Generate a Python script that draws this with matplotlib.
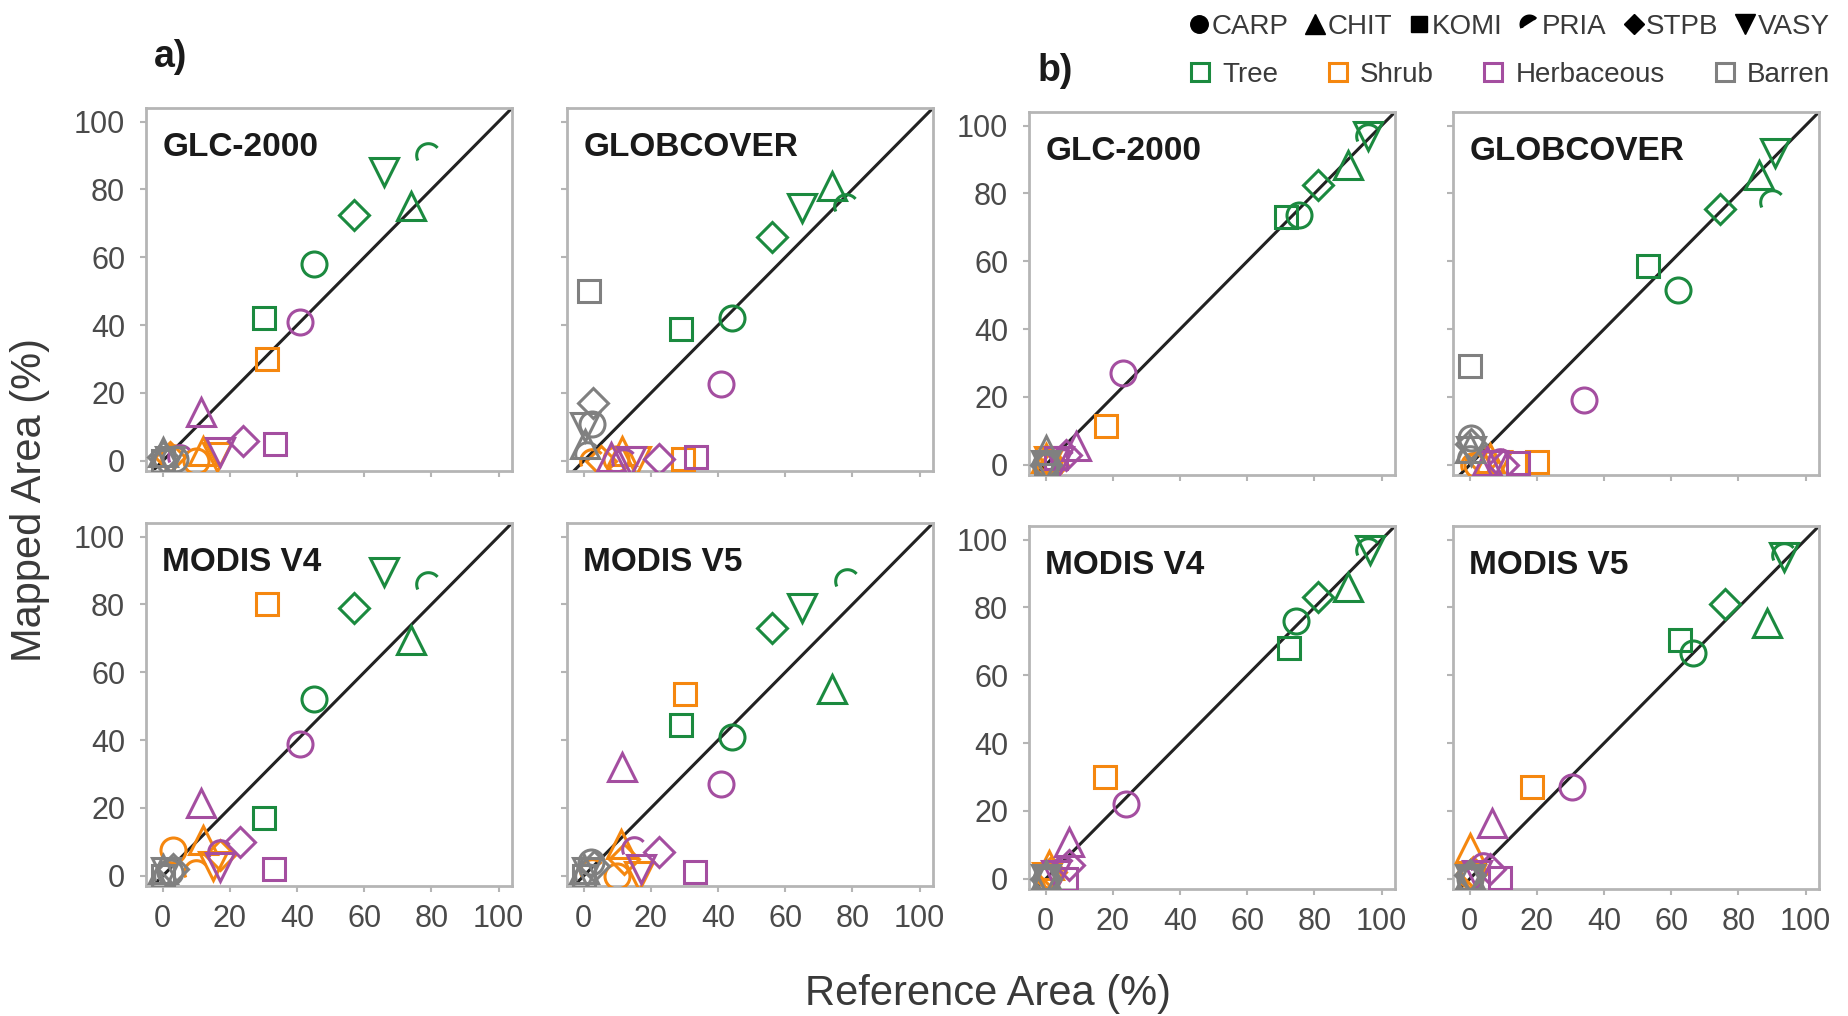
import numpy as np
import matplotlib.pyplot as plt
from matplotlib.lines import Line2D
from matplotlib.path import Path

plt.rcParams['font.family'] = ['Liberation Sans', 'DejaVu Sans']

# ---------------------------------------------------------------
# data: rows = cover classes, columns = sites
# ---------------------------------------------------------------
SITES = ["CARP", "CHIT", "KOMI", "PRIA", "STPB", "VASY"]
CLASSES = ["Tree", "Shrub", "Herbaceous", "Barren"]
PRODUCTS = ["GLC-2000", "GLOBCOVER", "MODIS V4", "MODIS V5"]

# a) panels
a_glc_ref = [[45, 74, 30, 79, 57, 66], [10, 12, 31, 3, 2, 16],
             [41, 11.5, 33.5, 5, 24, 17], [3.5, 0, 0, 1, 0, 2]]
a_glc_map = [[58, 75, 42, 90, 72.5, 85], [0, 3, 30, 1, 1, 1],
             [41, 14.5, 5, 1, 5.7, 2.5], [0.5, 2.5, 0, 0, 1, 0]]

a_gc_ref = [[44, 74, 29, 78, 56, 65], [9.5, 11.5, 29.5, 2.5, 5, 15.5],
            [41, 8, 33.5, 12, 22.5, 14], [2.5, 0.5, 1.5, 1, 2.7, 0.5]]
a_gc_map = [[42, 81, 39, 75, 66, 74.5], [0.5, 3, 0.5, 0, 0, 0],
            [22.5, 1, 1, 0, 0.5, 0], [11, 5, 50, 2, 17, 10]]

a_m4_ref = [[45, 74, 30, 79, 57, 66], [3, 12, 31, 10, 17, 15],
            [41, 11.5, 33, 17, 23, 17], [2, 0, 0, 1, 3, 1]]
a_m4_map = [[52, 69.5, 17, 86, 79, 89.5], [7.5, 10.5, 80, 1, 6, 3],
            [39, 21.5, 2, 7, 10, 2.5], [1, 2, 0, 0, 2, 1]]

a_m5_ref = [[44, 74, 29, 78.5, 56, 65], [10, 11, 30, 2.5, 12, 16.5],
            [41, 11.5, 33, 15, 22.5, 17], [2, 0, 0, 1, 3, 1]]
a_m5_map = [[41, 55, 44.5, 87, 73, 79], [0, 9.5, 53.5, 1.5, 5, 0],
            [27, 32, 1, 8, 7, 2], [4, 2, 0, 0, 3, 1]]

# b) panels
b_glc_ref = [[75.5, 90, 71.5, 96, 81, 96], [1, 0, 18, 0.5, 2, 1],
             [23, 9, 3, 5, 6, 4], [0, 0, 0, 0, 0, 0]]
b_glc_map = [[73.5, 88.5, 73, 97, 82.5, 97], [0, 2, 11.5, 1, 0, 1],
             [27, 5.5, 2, 1, 3, 1], [0, 4.5, 0, 0, 0, 0]]

b_gc_ref = [[62, 86, 53, 90, 74.5, 91], [2, 6, 20, 1, 4, 8],
            [34, 5, 14.5, 9, 10, 7], [0.5, 0, 0, 0, 0.5, 0.5]]
b_gc_map = [[51.5, 85.5, 58.5, 77.5, 75.5, 92], [0, 2, 0.7, 0, 1, 0],
            [19, 1, 0.5, 1, 0, 0], [8, 5, 29, 2, 6, 4]]

b_m4_ref = [[74.5, 90, 72.5, 96, 81, 96.5], [1, 1, 17.5, 0.5, 1.5, 0.5],
            [24, 7, 6, 5, 7, 3], [0, 0, 0, 0, 0, 0]]
b_m4_map = [[76, 86, 68, 97, 83, 97], [1, 4, 30, 0, 2, 0.5],
            [22, 11, 0, 3, 4, 1], [0, 1, 0, 0, 0, 0]]

b_m5_ref = [[66.5, 88.5, 62.5, 93.5, 76, 93.5], [0.5, 0, 18.5, 0, 1, 0.5],
            [30.5, 6.5, 9, 4, 6, 2], [0, 0, 0, 0, 0, 0]]
b_m5_map = [[66.5, 75.5, 70.5, 95.5, 81, 95], [1, 9, 27, 1, 2, 0],
            [27, 16.5, 0.3, 4, 3, 1], [0, 1, 0, 0, 1, 0]]

TICKS = [0, 20, 40, 60, 80, 100]

# ---------------------------------------------------------------
# styling
# ---------------------------------------------------------------
COLORS = {"Tree": "#1b8a3f", "Shrub": "#f5870f",
          "Herbaceous": "#a44ea0", "Barren": "#808080"}

# PRIA: open arc, upper-left part of a circle
theta = np.linspace(np.radians(40), np.radians(205), 30)
pria_path = Path(np.column_stack([np.cos(theta), np.sin(theta)]))

MARKERS = {"CARP": ("o", 18), "CHIT": ("^", 20), "KOMI": ("s", 16),
           "PRIA": (pria_path, 17), "STPB": ("D", 15), "VASY": ("v", 20)}

FRAME = "#b5b5b5"
TXT = "#3a3a3a"

W, H = 1849, 1016
fig = plt.figure(figsize=(W / 100, H / 100), dpi=100)

# axes boxes in pixels: (left, top)
col_left = [146, 567, 1029, 1453]
row_top = {0: [108, 523], 1: [108, 523], 2: [112, 526], 3: [112, 526]}
AW, AH = 366, 363

panels = [
    (0, 0, "GLC-2000", a_glc_ref, a_glc_map),
    (0, 1, "GLOBCOVER", a_gc_ref, a_gc_map),
    (1, 0, "MODIS V4", a_m4_ref, a_m4_map),
    (1, 1, "MODIS V5", a_m5_ref, a_m5_map),
    (0, 2, "GLC-2000", b_glc_ref, b_glc_map),
    (0, 3, "GLOBCOVER", b_gc_ref, b_gc_map),
    (1, 2, "MODIS V4", b_m4_ref, b_m4_map),
    (1, 3, "MODIS V5", b_m5_ref, b_m5_map),
]

for row, col, name, ref, mapped in panels:
    left = col_left[col]
    top = row_top[col][row]
    ax = fig.add_axes([left / W, 1 - (top + AH) / H, AW / W, AH / H])

    ax.axline((0, 0), slope=1, color="#222222", lw=2.2, zorder=1)

    for ci, cls in enumerate(CLASSES):
        for si, site in enumerate(SITES):
            mk, ms = MARKERS[site]
            ax.plot(ref[ci][si], mapped[ci][si], linestyle="none",
                    marker=mk, markersize=ms, markerfacecolor="none",
                    markeredgecolor=COLORS[cls], markeredgewidth=2.2,
                    zorder=2 + ci)

    ax.set_xlim(-5, 104)
    ax.set_ylim(-3, 104)
    ax.set_xticks(TICKS)
    ax.set_yticks(TICKS)
    for sp in ax.spines.values():
        sp.set_color(FRAME)
        sp.set_linewidth(2)
    ax.tick_params(length=4, width=1.5, color=FRAME, labelsize=22,
                   labelcolor="#4a4a4a")
    ax.tick_params(axis="y", pad=11)
    ax.tick_params(axis="x", pad=9)
    if row == 0:
        ax.tick_params(labelbottom=False)
    if col in (1, 3):
        ax.tick_params(labelleft=False)

    ax.text(0.045, 0.89, name, transform=ax.transAxes, fontsize=24,
            fontweight="bold", color="#1a1a1a", va="center", ha="left")

# panel letters
fig.text(171 / W, 1 - 57 / H, "a)", fontsize=27, fontweight="bold",
         color="#1a1a1a", ha="center", va="center")
fig.text(1055 / W, 1 - 71 / H, "b)", fontsize=27, fontweight="bold",
         color="#1a1a1a", ha="center", va="center")

# axis labels
fig.text(30 / W, 1 - 500 / H, "Mapped Area (%)", rotation=90, fontsize=30,
         color=TXT, ha="center", va="center")
fig.text(988 / W, 1 - 994 / H, "Reference Area (%)", fontsize=30,
         color=TXT, ha="center", va="center")

# legends
site_handles = [Line2D([], [], linestyle="none", marker=MARKERS[s][0],
                       markersize=MARKERS[s][1] * 0.7, color="black",
                       markeredgewidth=2.5 if s == "PRIA" else 1)
                for s in SITES]
fig.legend(site_handles, SITES, loc="center right",
           bbox_to_anchor=(1830 / W, 1 - 27 / H), ncol=6, frameon=False,
           fontsize=20, labelcolor=TXT, handlelength=0.7, handletextpad=0.1,
           columnspacing=0.62, borderaxespad=0, borderpad=0)

class_handles = [Line2D([], [], linestyle="none", marker="s", markersize=13,
                        markerfacecolor="white", markeredgecolor=COLORS[c],
                        markeredgewidth=2.2)
                 for c in CLASSES]
fig.legend(class_handles, CLASSES, loc="center right",
           bbox_to_anchor=(1830 / W, 1 - 75 / H), ncol=4, frameon=False,
           fontsize=20, labelcolor=TXT, handlelength=0.8, handletextpad=0.4,
           columnspacing=1.75, borderaxespad=0, borderpad=0)

fig.savefig("out.png", dpi=100, facecolor="white")
